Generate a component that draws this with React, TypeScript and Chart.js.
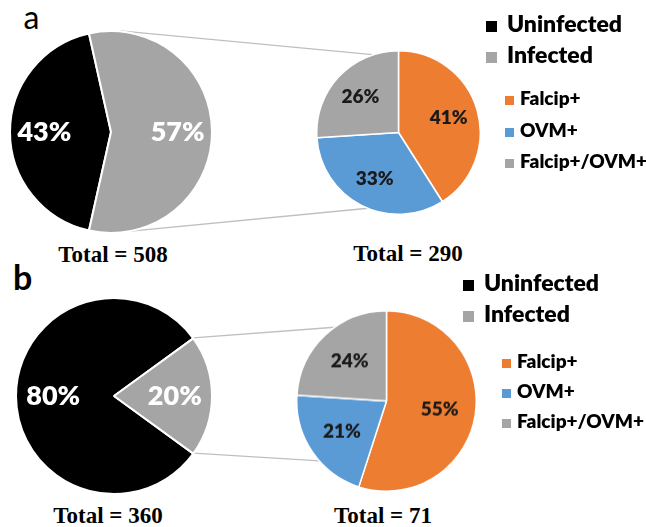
import React, { useEffect, useRef } from 'react';
import { Chart, registerables } from 'chart.js';

Chart.register(...registerables);

// ---------- data ----------
const mainCategories = ['Uninfected', 'Infected'];
const mainColors = ['#000000', '#A5A5A5'];
const subCategories = ['Falcip+', 'OVM+', 'Falcip+/OVM+'];
const subColors = ['#ED7D31', '#5B9BD5', '#A5A5A5'];

const panelAMain = [43, 57];
const panelASub = [41, 33, 26];
const panelBMain = [80, 20];
const panelBSub = [55, 21, 24];

const panelATotals = [508, 290];
const panelBTotals = [360, 71];
const panelLetters = ['a', 'b'];

// ---------- layout ----------
type PieGeom = { cx: number; cy: number; r: number; bw: number; labelR: number; font: number; color: string };
const GEOM: Record<string, PieGeom> = {
  aMain: { cx: 111, cy: 131.5, r: 101, bw: 2, labelR: 0.66, font: 27, color: '#FFFFFF' },
  aSub: { cx: 398.5, cy: 132.5, r: 82, bw: 1.5, labelR: 0.64, font: 19, color: '#1A1A1A' },
  bMain: { cx: 114, cy: 395.5, r: 98, bw: 2, labelR: 0.62, font: 27, color: '#FFFFFF' },
  bSub: { cx: 386.5, cy: 401, r: 90, bw: 1.5, labelR: 0.6, font: 19, color: '#1A1A1A' },
};
// where connector lines meet the secondary pie (clock degrees)
const SUB_LINE_ANGLES = { a: [-18.4, 201.6], b: [-35, 228] };

const FONT = 'Lato, "Open Sans", sans-serif';
const WEIGHT = 800;

function pieSize(g: PieGeom) {
  return 2 * g.r + g.bw;
}

function makePie(canvas: HTMLCanvasElement, values: number[], colors: string[], labels: string[], g: PieGeom, rotation: number) {
  const labelPlugin = {
    id: 'pctLabels',
    afterDatasetsDraw(chart: any) {
      const ctx = chart.ctx;
      const meta = chart.getDatasetMeta(0);
      ctx.save();
      ctx.font = `${WEIGHT} ${g.font}px ${FONT}`;
      ctx.fillStyle = g.color;
      ctx.textAlign = 'center';
      ctx.textBaseline = 'middle';
      meta.data.forEach((arc: any, i: number) => {
        const p = arc.getProps(['x', 'y', 'startAngle', 'endAngle', 'outerRadius'], true);
        const mid = (p.startAngle + p.endAngle) / 2;
        const rr = p.outerRadius * g.labelR;
        ctx.fillText(`${values[i]}%`, p.x + Math.cos(mid) * rr, p.y + Math.sin(mid) * rr);
      });
      ctx.restore();
    },
  };
  return new Chart(canvas, {
    type: 'pie',
    data: {
      labels,
      datasets: [
        {
          data: values,
          backgroundColor: colors,
          borderColor: '#FFFFFF',
          borderWidth: g.bw,
          hoverBorderWidth: g.bw,
          hoverOffset: 0,
          offset: 0,
        },
      ],
    },
    options: {
      responsive: false,
      maintainAspectRatio: false,
      animation: false,
      events: [],
      rotation,
      layout: { padding: 0 },
      plugins: { legend: { display: false }, tooltip: { enabled: false } },
    } as any,
    plugins: [labelPlugin],
  });
}

function mainRotation(vals: number[]) {
  // infected slice centred at 3 o'clock
  return 90 - (vals[0] + vals[1] / 2) * 3.6;
}

function PieCanvas({ id, refObj }: { id: string; refObj: React.RefObject<HTMLCanvasElement | null> }) {
  const g = GEOM[id];
  const s = pieSize(g);
  return (
    <canvas
      ref={refObj}
      width={s}
      height={s}
      style={{ position: 'absolute', left: g.cx - s / 2, top: g.cy - s / 2, width: s, height: s, zIndex: 2 }}
    />
  );
}

function LegendRow({ x, baseline, fs, size, gap, color, text }: any) {
  return (
    <div
      style={{
        position: 'absolute',
        left: x,
        top: baseline - 0.887 * fs,
        font: `${WEIGHT} ${fs}px ${FONT}`,
        lineHeight: `${fs}px`,
        whiteSpace: 'nowrap',
        color: '#000',
        zIndex: 3,
      }}
    >
      <span style={{ display: 'inline-block', width: size, height: size, background: color, marginRight: gap }} />
      {text}
    </div>
  );
}

function TotalText({ cx, baseline, value }: { cx: number; baseline: number; value: number }) {
  const fs = 23;
  return (
    <div
      style={{
        position: 'absolute',
        left: cx - 100,
        width: 200,
        textAlign: 'center',
        top: baseline - 0.8375 * fs,
        font: `bold ${fs}px "Liberation Serif", "Times New Roman", serif`,
        lineHeight: `${fs}px`,
        color: '#000',
      }}
    >
      {`Total = ${value}`}
    </div>
  );
}

export default function App() {
  const overlayRef = useRef<HTMLCanvasElement | null>(null);
  const aMainRef = useRef<HTMLCanvasElement | null>(null);
  const aSubRef = useRef<HTMLCanvasElement | null>(null);
  const bMainRef = useRef<HTMLCanvasElement | null>(null);
  const bSubRef = useRef<HTMLCanvasElement | null>(null);

  useEffect(() => {
    const charts: Chart[] = [];
    const aMain = makePie(aMainRef.current!, panelAMain, mainColors, mainCategories, GEOM.aMain, mainRotation(panelAMain));
    const aSub = makePie(aSubRef.current!, panelASub, subColors, subCategories, GEOM.aSub, 0);
    const bMain = makePie(bMainRef.current!, panelBMain, mainColors, mainCategories, GEOM.bMain, mainRotation(panelBMain));
    const bSub = makePie(bSubRef.current!, panelBSub, subColors, subCategories, GEOM.bSub, 0);
    charts.push(aMain, aSub, bMain, bSub);

    const offset = (g: PieGeom) => ({ x: g.cx - pieSize(g) / 2, y: g.cy - pieSize(g) / 2 });

    const connectorLines = (main: Chart, gm: PieGeom, sub: Chart, gs: PieGeom, angles: number[]) => {
      const om = offset(gm);
      const os = offset(gs);
      const infected: any = main.getDatasetMeta(0).data[1];
      const pm = infected.getProps(['x', 'y', 'startAngle', 'endAngle', 'outerRadius'], true);
      const subArc: any = sub.getDatasetMeta(0).data[0];
      const ps = subArc.getProps(['x', 'y', 'outerRadius'], true);
      const C = { x: om.x + pm.x, y: om.y + pm.y };
      const S = { x: os.x + ps.x, y: os.y + ps.y };
      const targets = angles.map((deg) => {
        const a = ((deg - 90) * Math.PI) / 180;
        return { x: S.x + Math.cos(a) * ps.outerRadius, y: S.y + Math.sin(a) * ps.outerRadius };
      });
      const span = pm.endAngle - pm.startAngle;
      let starts;
      if (span <= Math.PI) {
        starts = [pm.startAngle, pm.endAngle].map((a: number) => ({
          x: C.x + Math.cos(a) * pm.outerRadius,
          y: C.y + Math.sin(a) * pm.outerRadius,
        }));
      } else {
        starts = targets.map((Q, i) => {
          const d = Math.hypot(Q.x - C.x, Q.y - C.y);
          const phi = Math.atan2(Q.y - C.y, Q.x - C.x);
          const al = Math.acos(pm.outerRadius / d);
          const a = i === 0 ? phi - al : phi + al;
          return { x: C.x + Math.cos(a) * pm.outerRadius, y: C.y + Math.sin(a) * pm.outerRadius };
        });
      }
      return starts.map((p: any, i: number) => [p, targets[i]]);
    };

    const lines = [
      ...connectorLines(aMain, GEOM.aMain, aSub, GEOM.aSub, SUB_LINE_ANGLES.a),
      ...connectorLines(bMain, GEOM.bMain, bSub, GEOM.bSub, SUB_LINE_ANGLES.b),
    ];
    const ov = overlayRef.current!;
    const ctx = ov.getContext('2d')!;
    ctx.clearRect(0, 0, ov.width, ov.height);
    ctx.strokeStyle = '#BFBFBF';
    ctx.lineWidth = 1.3;
    lines.forEach(([p, q]: any) => {
      ctx.beginPath();
      ctx.moveTo(p.x, p.y);
      ctx.lineTo(q.x, q.y);
      ctx.stroke();
    });

    return () => {
      charts.forEach((c) => c.destroy());
    };
  }, []);

  return (
    <div style={{ position: 'absolute', left: 0, top: 0, width: 646, height: 527, background: '#FFFFFF', overflow: 'hidden' }}>
      <canvas ref={overlayRef} width={646} height={527} style={{ position: 'absolute', left: 0, top: 0, zIndex: 1 }} />
      <PieCanvas id="aMain" refObj={aMainRef} />
      <PieCanvas id="aSub" refObj={aSubRef} />
      <PieCanvas id="bMain" refObj={bMainRef} />
      <PieCanvas id="bSub" refObj={bSubRef} />

      <div style={{ position: 'absolute', left: 23.5, top: 29 - 0.887 * 32, font: `${32}px ${FONT}`, lineHeight: '32px', color: '#000' }}>
        {panelLetters[0]}
      </div>
      <div style={{ position: 'absolute', left: 13, top: 290 - 0.887 * 34, font: `bold ${34}px ${FONT}`, lineHeight: '34px', color: '#000' }}>
        {panelLetters[1]}
      </div>

      {mainCategories.map((c, i) => (
        <LegendRow key={'am' + c} x={486} baseline={32 + i * 31} fs={23} size={11} gap={10} color={mainColors[i]} text={c} />
      ))}
      {subCategories.map((c, i) => (
        <LegendRow key={'as' + c} x={505} baseline={105 + i * 31.5} fs={19} size={9} gap={6} color={subColors[i]} text={c} />
      ))}
      {mainCategories.map((c, i) => (
        <LegendRow key={'bm' + c} x={463} baseline={291 + i * 31} fs={23} size={11} gap={10} color={mainColors[i]} text={c} />
      ))}
      {subCategories.map((c, i) => (
        <LegendRow key={'bs' + c} x={502} baseline={368 + i * 30} fs={19} size={9} gap={6} color={subColors[i]} text={c} />
      ))}

      <TotalText cx={113} baseline={262} value={panelATotals[0]} />
      <TotalText cx={408} baseline={261} value={panelATotals[1]} />
      <TotalText cx={108} baseline={523} value={panelBTotals[0]} />
      <TotalText cx={383} baseline={523} value={panelBTotals[1]} />
    </div>
  );
}
